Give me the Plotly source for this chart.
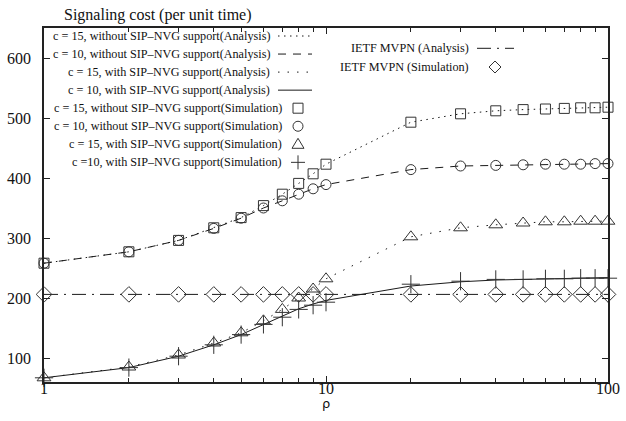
import plotly.graph_objects as go

# ---------------- data ----------------
rho = [1, 2, 3, 4, 5, 6, 7, 8, 9, 10, 20, 30, 40, 50, 60, 70, 80, 90, 100]

# Analysis curves
a_c15_without = [258, 277, 296, 317, 334, 354, 373, 391, 407, 423, 493, 507, 512, 514, 515, 516, 517, 517, 518]
a_c10_without = [258, 277, 296, 316, 333, 350, 362, 373, 382, 389, 414, 420, 421, 422, 423, 423, 423, 424, 424]
a_c15_with = [67, 85, 105, 125, 142, 162, 181, 200, 215, 232, 302, 317, 322, 325, 327, 327, 328, 328, 328]
a_c10_with = [67, 84, 103, 122, 139, 156, 170, 182, 190, 196, 220, 227, 230, 231, 232, 232, 233, 233, 234]
a_ietf = [206] * 19

# Simulation points
s_c15_without = [258, 277, 296, 317, 334, 354, 373, 391, 407, 423, 493, 507, 512, 514, 515, 516, 517, 517, 518]
s_c10_without = [258, 277, 296, 316, 333, 350, 362, 373, 382, 389, 414, 420, 421, 422, 423, 423, 423, 424, 424]
s_c15_with = [67, 85, 105, 125, 142, 162, 181, 200, 215, 232, 302, 317, 322, 325, 327, 327, 328, 328, 328]
s_c10_with = [67, 84, 103, 122, 139, 156, 168, 181, 188, 193, 223, 228, 231, 231, 232, 232, 233, 233, 233]
s_ietf = [206] * 19

y_ticks = [100, 200, 300, 400, 500, 600]
x_ticks = [1, 10, 100]
x_minor = [2, 3, 4, 5, 6, 7, 8, 9, 20, 30, 40, 50, 60, 70, 80, 90]

left_labels = [
    "c = 15, without SIP\u2013NVG support(Analysis)",
    "c = 10, without SIP\u2013NVG support(Analysis)",
    "c = 15, with SIP\u2013NVG support(Analysis)",
    "c = 10, with SIP\u2013NVG support(Analysis)",
    "c = 15, without SIP\u2013NVG support(Simulation)",
    "c = 10, without SIP\u2013NVG support(Simulation)",
    "c = 15, with SIP\u2013NVG support(Simulation)",
    "c =10, with SIP\u2013NVG support(Simulation)",
]
right_labels = ["IETF MVPN (Analysis)", "IETF MVPN (Simulation)"]

# ---------------- styles ----------------
FONT = "Liberation Serif"
INK = "#1a1a1a"
MK = "#333333"
DASH_C15_WO = "1.5px,4.5px"
DASH_C10_WO = "8px,7px"
DASH_C15_W = "1.5px,8px"
DASH_C10_W = "solid"
DASH_IETF = "14px,6px,2px,6px"

fig = go.Figure()

def add_line(y, dash):
    fig.add_trace(go.Scatter(x=rho, y=y, mode="lines",
                             line=dict(color=INK, width=1, dash=dash),
                             showlegend=False, hoverinfo="skip", cliponaxis=False))

def add_marker(y, symbol, size):
    fig.add_trace(go.Scatter(x=rho, y=y, mode="markers",
                             marker=dict(symbol=symbol, size=size, color=MK,
                                         line=dict(color=MK, width=1)),
                             showlegend=False, cliponaxis=False))

add_line(a_c15_without, DASH_C15_WO)
add_line(a_c10_without, DASH_C10_WO)
add_line(a_c15_with, DASH_C15_W)
add_line(a_c10_with, DASH_C10_W)
add_line(a_ietf, DASH_IETF)

add_marker(s_c15_without, "square-open", 10)
add_marker(s_c10_without, "circle-open", 10)
add_marker(s_c15_with, "triangle-up-open", 12)
add_marker(s_c10_with, "cross-thin-open", 13)
add_marker(s_ietf, "diamond-open", 12)

# ---------------- layout geometry ----------------
L, R, T, B = 44, 18, 28, 39
W, H = 626, 421
PW, PH = W - L - R, H - T - B

def px(xp):
    return (xp - L) / PW

def py(yp):
    return (H - B - yp) / PH

annotations = []
shapes = []

# title
annotations.append(dict(text="Signaling cost (per unit time)", xref="paper", yref="paper",
                        x=px(62), y=py(15), xanchor="left", yanchor="middle",
                        showarrow=False, font=dict(family=FONT, size=16, color="#111")))
# x axis label
annotations.append(dict(text="\u03c1", xref="paper", yref="paper", x=px(326), y=py(403),
                        xanchor="center", yanchor="middle", showarrow=False,
                        font=dict(family="DejaVu Sans", size=13, color="#111")))

# left legend
row_y = [36 + 18.05 * i for i in range(8)]
text_right = [272, 272, 272, 272, 284, 284, 284, 284]
for lab, yy, tr in zip(left_labels, row_y, text_right):
    annotations.append(dict(text=lab, xref="paper", yref="paper", x=px(tr), y=py(yy),
                            xanchor="right", yanchor="middle", showarrow=False,
                            font=dict(family=FONT, size=12.2, color="#111")))

for dash, yy in zip([DASH_C15_WO, DASH_C10_WO, DASH_C15_W, DASH_C10_W], row_y[:4]):
    shapes.append(dict(type="line", xref="paper", yref="paper", x0=px(278), x1=px(312),
                       y0=py(yy), y1=py(yy), line=dict(color=INK, width=1, dash=dash)))

mx = px(298)
mk_line = dict(color=MK, width=1)
shapes.append(dict(type="rect", xref="paper", yref="paper", xsizemode="pixel", ysizemode="pixel",
                   xanchor=mx, yanchor=py(row_y[4]), x0=-5, x1=5, y0=-5, y1=5, line=mk_line))
shapes.append(dict(type="circle", xref="paper", yref="paper", xsizemode="pixel", ysizemode="pixel",
                   xanchor=mx, yanchor=py(row_y[5]), x0=-5, x1=5, y0=-5, y1=5, line=mk_line))
shapes.append(dict(type="path", xref="paper", yref="paper", xsizemode="pixel", ysizemode="pixel",
                   xanchor=mx, yanchor=py(row_y[6]), path="M-6,-4 L6,-4 L0,6 Z", line=mk_line))
shapes.append(dict(type="path", xref="paper", yref="paper", xsizemode="pixel", ysizemode="pixel",
                   xanchor=mx, yanchor=py(row_y[7]), path="M-7,0 L7,0 M0,-7 L0,7", line=mk_line))

# right legend
r_rows = [48.3, 67]
for lab, yy in zip(right_labels, r_rows):
    annotations.append(dict(text=lab, xref="paper", yref="paper", x=px(471), y=py(yy),
                            xanchor="right", yanchor="middle", showarrow=False,
                            font=dict(family=FONT, size=12.2, color="#111")))
shapes.append(dict(type="line", xref="paper", yref="paper", x0=px(477), x1=px(514),
                   y0=py(r_rows[0]), y1=py(r_rows[0]), line=dict(color=INK, width=1, dash=DASH_IETF)))
shapes.append(dict(type="path", xref="paper", yref="paper", xsizemode="pixel", ysizemode="pixel",
                   xanchor=px(495), yanchor=py(r_rows[1]), path="M-6,0 L0,6 L6,0 L0,-6 Z", line=mk_line))

fig.update_layout(
    width=W, height=H,
    margin=dict(l=L, r=R, t=T, b=B, pad=0),
    paper_bgcolor="white", plot_bgcolor="white",
    showlegend=False,
    annotations=annotations, shapes=shapes,
    font=dict(family=FONT, size=16, color="#111"),
)

fig.update_xaxes(type="log", range=[0, 2], tickvals=x_ticks, ticktext=[str(v) for v in x_ticks],
                 ticks="inside", ticklen=6, tickwidth=1, tickcolor="#222", automargin=False,
                 showline=True, linecolor="#222", linewidth=1.5, mirror="ticks",
                 showgrid=False, zeroline=False, ticklabelstandoff=-9,
                 minor=dict(tickvals=x_minor, ticks="inside", ticklen=4, tickwidth=1, tickcolor="#222", showgrid=False),
                 tickfont=dict(family=FONT, size=16, color="#111"))
fig.update_yaxes(range=[60, 650], tickvals=y_ticks, automargin=False,
                 ticks="inside", ticklen=6, tickwidth=1, tickcolor="#222",
                 showline=True, linecolor="#222", linewidth=1.5, mirror="ticks",
                 showgrid=False, zeroline=False, ticklabelstandoff=8,
                 tickfont=dict(family=FONT, size=16, color="#111"))

fig.write_html("out.html",
               config={"displayModeBar": False},
               post_script="document.body.style.margin='0px';document.body.style.overflow='hidden';")
